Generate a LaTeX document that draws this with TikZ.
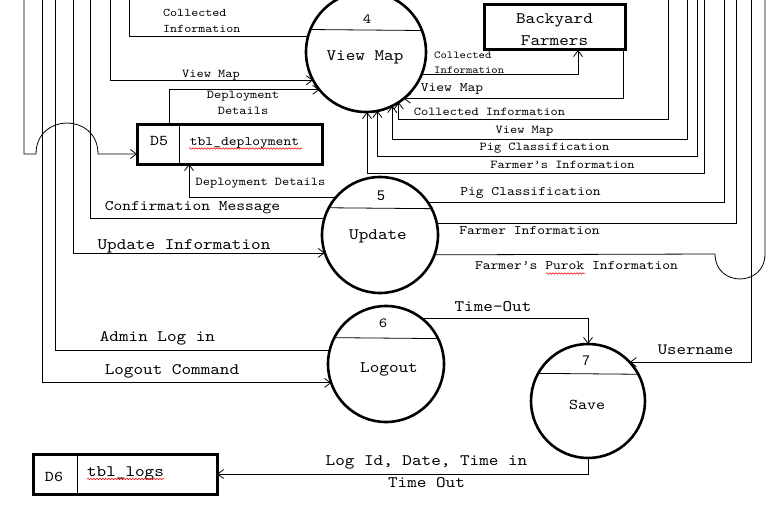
\documentclass[tikz,border=0pt]{standalone}
\usepackage{fontspec}
\setmainfont[FakeStretch=1.143]{lmmono10-regular.otf}
\newfontfamily\arialf{Liberation Sans}
\usetikzlibrary{arrows.meta,calc,decorations.pathmorphing}
\begin{document}
\begin{tikzpicture}[x=1pt,y=-1pt,
  flow/.style={line width=0.8pt},
  arr/.style={flow,-{Straight Barb[length=6pt,width=9pt]}},
  proc/.style={circle,draw,line width=2.6pt,minimum size=#1,inner sep=0pt,outer sep=0pt},
  store/.style={draw,line width=3pt,inner sep=0pt,outer sep=0pt},
  div/.style={line width=0.8pt},
  txt/.style={inner sep=0pt,font=\fontsize{#1}{#1}\selectfont},
  txtml/.style 2 args={inner sep=0pt,font=\fontsize{#1}{#2}\selectfont},
  squig/.style={red,line width=0.5pt,decorate,decoration={snake,amplitude=0.8pt,segment length=3pt}}
]
\useasboundingbox (0,0) rectangle (784,516);
\fill[white] (0,0) rectangle (784,516);
\clip (0,0) rectangle (784,516);

% ---------- processes ----------
\node[proc=120pt] (vm) at (366,52) {};
\node[proc=116pt] (up) at (380,235) {};
\node[proc=116pt] (lo) at (386,364) {};
\node[proc=114pt] (sv) at (588,401) {};
\draw[div] (vm.158.5) -- (vm.21.5);
\draw[div] (up.152.3) -- (up.27.7);
\draw[div] (lo.153.4) -- (lo.26.6);
\draw[div] (sv.151.7) -- (sv.28.3);
\node[txt=14] (vmn) at (367,19) {4};
\node[txt=16] (vmt) at (365,57) {View Map};
\node[txt=14,font=\arialf\fontsize{14}{14}\selectfont] (upn) at (381,196) {5};
\node[txt=16] (upt) at (378,236) {Update};
\node[txt=14] (lon) at (383,323) {6};
\node[txt=16] (lot) at (389,369) {Logout};
\node[txt=14,font=\arialf\fontsize{14}{14}\selectfont] (svn) at (586,361) {7};
\node[txt=15] (svt) at (587,405) {Save};

% ---------- stores and entity ----------
\node[store,minimum width=185pt,minimum height=39pt] (d5) at (229.5,144.5) {};
\draw[div] ($(d5.north west)+(42,0)$) -- ($(d5.south west)+(42,0)$);
\node[txt=15] (d5a) at (159,141) {D5};
\node[txt=13] (d5b) at (244.5,143) {tbl\_deployment};
\draw[squig] (189,148.5) -- (302,148.5);

\node[store,minimum width=184pt,minimum height=40pt] (d6) at (125,474) {};
\draw[div] ($(d6.north west)+(44.5,0)$) -- ($(d6.south west)+(44.5,0)$);
\node[txt=15] (d6a) at (54,477) {D6};
\node[txt=16] (d6b) at (125.5,473) {tbl\_logs};
\draw[squig] (87,479) -- (164,479);

\node[store,minimum width=141pt,minimum height=45pt] (bf) at (554.5,27.5) {};
\node[txtml={16}{22},align=center] (bft) at (554.5,30) {Backyard\\Farmers};

% ---------- helper coordinates ----------
\foreach \xx in {24,42,55,73,90,110,129,668,687,697,704,724,736,751,765}
  {\coordinate (t\xx) at (\xx,-5);}
\coordinate (x169) at (169,0);
\coordinate (x189) at (189,0);
\coordinate (x578) at (578,0);
\coordinate (x623) at (623,0);
\coordinate (y119) at (0,119);
\coordinate (y139) at (0,139);
\coordinate (y156) at (0,156);
\coordinate (y173) at (0,173);
\coordinate (j1) at (24,154);
\coordinate (j2) at (36,154);
\coordinate (j3) at (98,154);
\coordinate (p1) at (715,254);
\coordinate (p2) at (765,254);

% ---------- left side flows ----------
\draw[flow] (t129) |- (vm.165.5);
\draw[arr] (t110) |- (vm.208.9);
\draw[arr] (d5.north -| x169) |- (vm.219.3);
\draw[arr] (t24) -- (j1) -- (j2) .. controls (36,112.7) and (98,112.7) .. (j3) -- (j3 -| d5.west);
\draw[arr] (up.139.1) -| (d5.south -| x189);
\draw[flow] (up.163) -| (t90);
\draw[arr] (t73) |- (up.198.1);
\draw[flow] (lo.166) -| (t55);
\draw[arr] (t42) |- (lo.199.1);

% ---------- right side flows ----------
\draw[arr] (vm.338.5) -| (bf.south -| x578);
\draw[arr] (bf.south -| x623) |- (vm.309.9);
\draw[arr] (t668) |- (vm.303.4 |- y119) -- (vm.303.4);
\draw[arr] (t687) |- (vm.296.7 |- y139) -- (vm.296.7);
\draw[arr] (t697) |- (vm.281.5 |- y156) -- (vm.281.5);
\draw[arr] (t704) |- (vm.271.9 |- y173) -- (vm.271.9);
\draw[flow] (up.34.7) -| (t724);
\draw[flow] (up.12.95) -| (t736);
\draw[flow] (up.340.9) -- (p1) .. controls (715,287.3) and (765,287.3) .. (p2) -- (t765);
\draw[arr] (lo.52) -| (sv.north);
\draw[arr] (t751) |- (sv.43.2);
\draw[arr] (sv.south) |- (d6.east);

% ---------- labels ----------
\node[txtml={11.7}{16},align=left,anchor=west] (l1) at (163,21) {Collected\\Information};
\node[txt=12] (l2) at (211,75) {View Map};
\node[txtml={12}{16},align=center] (l3) at (243,103) {Deployment\\Details};
\node[txt=12] (l4) at (260.5,183) {Deployment Details};
\node[txt=14.6] (l5) at (192.5,208) {Confirmation Message};
\node[txt=16] (l6) at (184,246) {Update Information};
\node[txt=16] (l7) at (157.5,338) {Admin Log in};
\node[txt=16] (l8) at (172,371) {Logout Command};
\node[txtml={10.6}{15},align=left,anchor=west] (r1) at (434,62.5) {Collected\\Information};
\node[txt=13] (r2) at (452,89) {View Map};
\node[txt=12] (r3) at (489.5,112) {Collected Information};
\node[txt=12] (r4) at (524.5,131) {View Map};
\node[txt=12] (r5) at (544.5,148) {Pig Classification};
\node[txt=12] (r6) at (562.5,165) {Farmer’s Information};
\node[txt=13] (r7) at (530.5,193) {Pig Classification};
\node[txt=13] (r8) at (529.5,231) {Farmer Information};
\node[txt=13] (r9) at (576.5,266) {Farmer’s Purok Information};
\draw[squig] (546,273.5) -- (585,273.5);
\node[txt=16] (r10) at (493,307) {Time-Out};
\node[txt=15.7] (r11) at (695.5,350) {Username};
\node[txt=16] (r12) at (426.5,462) {Log Id, Date, Time in};
\node[txt=16] (r13) at (426.5,483) {Time Out};
\end{tikzpicture}
\end{document}
